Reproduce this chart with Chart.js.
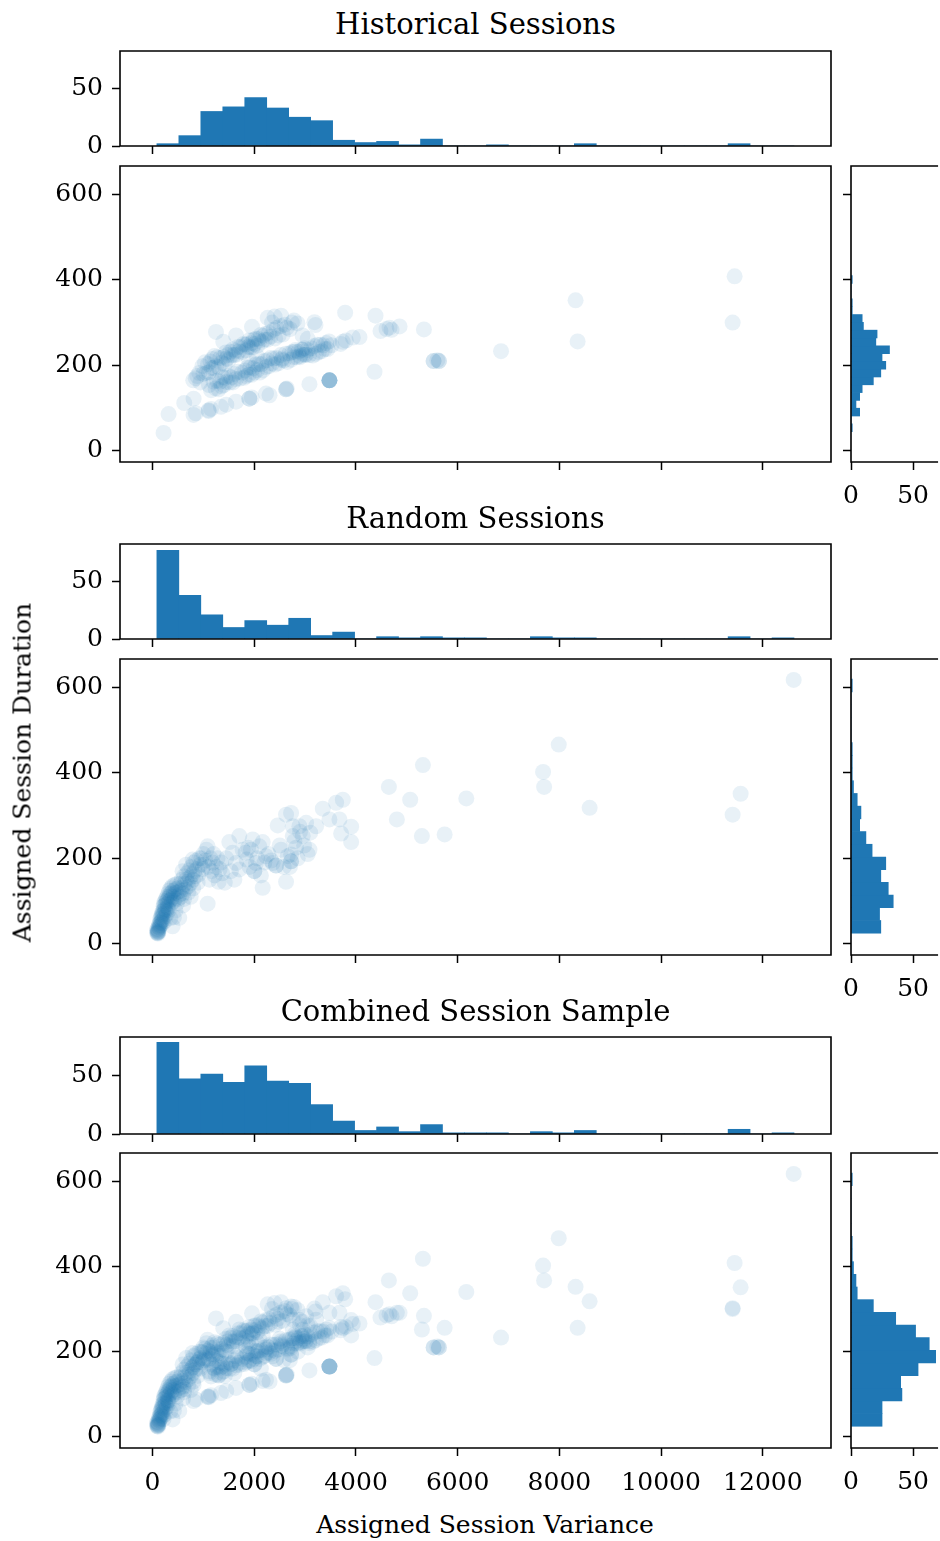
<!DOCTYPE html>
<html>
<head>
<meta charset="utf-8">
<script src="https://cdn.jsdelivr.net/npm/chart.js@4.4.1/dist/chart.umd.min.js"></script>
<style>
  html, body { margin: 0; padding: 0; background: #fff; }
  #page { position: relative; width: 940px; height: 1541px; overflow: hidden; font-family: "DejaVu Serif", serif; color: #000; }
  canvas { position: absolute; }
  .txt { position: absolute; white-space: nowrap; text-align: center; }
</style>
</head>
<body>
<div id="page"></div>
<script>
"use strict";

// shared x bins (left edges, last value is the right edge of the last bin)
var xBinEdges = [85, 517, 949, 1381, 1813, 2245, 2677, 3109, 3541, 3973, 4405, 4837, 5269, 5701, 6133,
    6565, 6997, 7429, 7861, 8293, 8725, 9157, 9589, 10021, 10453, 10885, 11317, 11749, 12181, 12613];

var historicXCounts = [2, 9, 30, 34, 42, 33, 25, 22, 5, 3, 4, 1, 6, 0, 0, 1, 0, 0, 0, 2, 0, 0, 0, 0, 0, 0, 2, 0, 0];
var randomXCounts = [77, 38, 21, 10, 16, 12, 18, 3, 6, 0, 2, 1, 2, 1, 1, 0, 0, 2, 1, 1, 0, 0, 0, 0, 0, 0, 2, 0, 1];
var combinedXCounts = [78, 47, 51, 44, 58, 45, 43, 25, 11, 3, 6, 2, 8, 1, 1, 1, 0, 2, 1, 3, 0, 0, 0, 0, 0, 0, 4, 0, 1];

var historicYEdges = [45, 63.25, 81.5, 99.75, 118, 136.25, 154.5, 172.75, 191, 209.25, 227.5,
    245.75, 264, 282.25, 300.5, 318.75, 337, 355.25, 373.5, 391.75, 410];
var historicYCounts = [1, 0, 7, 4, 7, 9, 18, 24, 28, 25, 31, 20, 21, 10, 9, 1, 1, 0, 0, 1];

var randomYEdges = [25, 54.7, 84.4, 114.1, 143.8, 173.5, 203.2, 232.9, 262.6, 292.3, 322,
    351.7, 381.4, 411.1, 440.8, 470.5, 500.2, 529.9, 559.6, 589.3, 619];
var randomYCounts = [24, 23, 34, 30, 24, 28, 17, 12, 7, 8, 5, 2, 1, 1, 1, 0, 0, 0, 0, 1];

var combinedYEdges = [25, 54.7, 84.4, 114.1, 143.8, 173.5, 203.2, 232.9, 262.6, 292.3, 322,
    351.7, 381.4, 411.1, 440.8, 470.5, 500.2, 529.9, 559.6, 589.3, 619];
var combinedYCounts = [25, 25, 41, 40, 54, 72, 63, 52, 36, 18, 5, 4, 2, 1, 1, 0, 0, 0, 0, 1];

var varianceTicks = [0, 2000, 4000, 6000, 8000, 10000, 12000];
var durationTicks = [0, 200, 400, 600];
var countTicks = [0, 50];

// [variance, duration]
var historicPoints = [
    [217,42],[315,86],[623,112],[807,122],[807,84],[850,88],[1103,93],[1103,95],[1150,98],[1345,103],
    [1450,108],[1641,115],[1903,122],[1903,122],[1950,125],[2231,134],[2300,130],[2625,144],[2625,144],[2640,146],
    [3085,156],[3478,165],[3478,165],[3478,165],[3478,165],[3478,165],[3478,165],
    [1247,278],[1391,255],[1641,270],[1956,290],[2264,311],[2400,314],[2527,316],[3183,301],[3203,294],[3787,323],
    [4384,316],[4364,185],[4069,266],[4482,280],[4600,285],[4660,288],[4700,283],[4857,291],[5336,284],[5526,210],
    [5526,210],[5600,212],[5631,210],[5631,210],[6852,233],[8318,352],[8358,256],[11445,408],[11406,300],
    [3741,255],[3938,265],[3800,258],[3700,250],
    [800,165],[850,170],[880,175],[920,182],[940,160],
    [980,198],[1000,180],[1030,207],[1060,182],[1090,203],[1110,184],[1140,209],[1160,194],[1180,215],[1200,194],
    [1220,222],[1250,198],[1270,219],[1300,196],[1330,217],[1360,206],
    [1110,154],[1150,142],[1200,162],[1240,146],[1270,164],[1300,144],[1330,162],[1360,151],[1375,172],
    [1400,220],[1420,203],[1440,230],[1460,216],[1480,224],[1500,213],[1530,232],[1560,224],[1580,237],[1600,224],
    [1630,234],[1650,225],[1680,243],[1700,233],[1730,243],[1760,231],[1790,250],
    [1400,154],[1430,171],[1460,161],[1490,175],[1520,160],[1550,172],[1580,160],[1610,180],[1640,168],[1680,185],
    [1720,169],[1760,183],[1800,171],
    [1820,248],[1840,235],[1860,249],[1880,243],[1900,258],[1920,242],[1945,252],[1970,242],[1990,260],[2010,250],
    [2030,262],[2060,246],[2080,262],[2100,258],[2130,271],[2150,255],[2180,269],[2210,260],[2230,274],
    [1820,188],[1840,175],[1870,195],[1890,178],[1920,195],[1950,178],[1980,193],[2000,183],[2030,202],[2060,189],
    [2090,203],[2110,183],[2140,203],[2170,188],[2200,210],[2230,196],[1900,212],[2050,222],
    [2260,260],[2290,276],[2320,267],[2350,300],[2380,283],[2410,263],[2440,287],[2480,270],[2520,292],[2560,272],
    [2600,295],[2640,288],
    [2260,212],[2290,198],[2320,217],[2350,204],[2380,216],[2410,202],[2440,217],[2480,205],[2520,224],[2546,213],
    [2546,216],[2580,211],[2620,227],[2650,208],
    [2700,285],[2740,300],[2780,305],[2850,298],[2950,270],[3050,262],[2690,228],[2720,213],[2750,231],[2780,219],
    [2810,236],[2840,219],[2870,232],[2900,219],[2930,237],[2960,225],[2990,240],[3020,225],[3050,236],[3080,224],
    [2800,232],[2900,222],[2950,236],[3000,225],
    [3120,240],[3150,223],[3180,245],[3210,227],[3240,248],[3270,231],[3300,248],[3330,233],[3360,247],[3390,238],
    [3413,252],[3440,238],[3470,256],[3520,247]
];

var randomPoints = [
    [90,25],[95,28],[100,26],[105,30],[110,27],[88,32],[115,33],[120,29],[98,35],[108,24],[125,40],[130,45],
    [135,38],[140,48],[145,42],[155,52],[160,44],[170,50],[180,54],[394,41],[200,48],[240,53],
    [150,58],[165,62],[175,66],[185,70],[190,60],[195,75],[200,68],[210,78],[220,72],[230,82],[240,64],[250,80],
    [260,76],[280,70],[300,83],[420,62],[450,78],[350,60],[320,79],[210,57],
    [215,88],[225,95],[235,90],[245,100],[255,92],[265,105],[275,98],[285,110],[295,102],[305,94],[320,108],
    [335,100],[350,112],[365,104],[380,96],[400,110],[420,100],[440,106],[480,95],[500,105],[300,86],
    [310,118],[330,125],[345,116],[360,130],[375,120],[390,135],[405,124],[420,118],[435,138],[450,128],[465,120],
    [480,140],[495,130],[510,122],
    [530,115],[545,140],[560,125],[575,150],[590,132],[600,118],[615,158],[630,140],[645,128],[660,150],[675,165],
    [690,145],[705,135],[720,172],[735,155],[750,142],[765,180],[780,162],[795,150],[810,190],[825,170],[840,158],
    [860,195],[880,175],[900,162],[920,200],[940,185],[788,197],[591,170],[660,185],[560,110],[620,105],[886,143],
    [700,120],[800,130],[525,61],[600,90],[750,110],
    [960,200],[980,175],[1000,210],[1020,185],[1040,195],[1060,220],[1083,228],[1083,94],[1100,180],[1120,150],
    [1140,200],[1160,170],[1180,190],[1200,210],[1220,160],[1250,180],[1280,200],[1300,145],[1320,175],[1350,190],
    [1370,165],
    [1420,143],[1450,200],[1509,238],[1540,170],[1575,213],[1608,150],[1641,189],[1706,252],[1706,174],[1772,220],
    [1830,213],[1850,197],[1880,225],[1910,180],[1936,220],[1969,244],[2001,170],[2001,170],[2034,189],[2060,200],
    [2100,228],[2130,160],[2166,238],[2166,131],[2200,190],[2231,205],
    [2280,210],[2330,195],[2363,189],[2428,183],[2428,183],[2461,277],[2500,230],[2527,220],[2580,180],[2625,145],
    [2625,302],[2658,205],
    [2700,180],[2724,193],[2724,193],[2724,209],[2724,306],[2757,252],[2757,275],[2790,240],[2822,225],[2855,200],
    [2888,275],[2900,262],[2953,252],[2980,230],[3020,283],[3050,210],[3085,220],[3100,260],
    [3216,275],[3347,316],[3478,291],
    [3610,330],[3741,337],[3675,291],[3708,258],[3905,274],[3905,238],
    [4647,367],[4804,291],[5066,337],[5316,418],[5296,252],[5743,256],[6169,340],
    [7679,402],[7699,367],[7987,466],[8594,318],[11406,302],[11563,351],[12606,617]
];

var groupTitles = ['Historical Sessions', 'Random Sessions', 'Combined Session Sample'];
var groupXCounts = [historicXCounts, randomXCounts, combinedXCounts];
var groupYEdges = [historicYEdges, randomYEdges, combinedYEdges];
var groupYCounts = [historicYCounts, randomYCounts, combinedYCounts];
var groupPoints = [[historicPoints], [randomPoints], [historicPoints, randomPoints]];

// page geometry
var frame = {
    left: 120, right: 831, sideLeft: 851, sideRight: 940,
    histTop: [51, 544, 1037], histBottom: [146, 639, 1134],
    mainTop: [166, 659, 1153], mainBottom: [462, 955, 1448],
    titleBaseline: [34, 528, 1021]
};

var blue = '#1f77b4';
var dotColor = 'rgba(31, 119, 180, 0.1)';

Chart.defaults.font.family = '"DejaVu Serif", serif';
Chart.defaults.font.size = 25;
Chart.defaults.color = '#000';

var page = document.getElementById('page');

var framePlugin = {
    id: 'frame',
    afterDatasetsDraw: function (chart, args, opts) {
        var a = chart.chartArea, ctx = chart.ctx;
        ctx.save();
        ctx.strokeStyle = '#000';
        ctx.lineWidth = 1.6;
        ctx.beginPath();
        if (opts.open) {
            ctx.moveTo(a.right + 2, a.top);
            ctx.lineTo(a.left, a.top);
            ctx.lineTo(a.left, a.bottom);
            ctx.lineTo(a.right + 2, a.bottom);
        } else {
            ctx.rect(a.left, a.top, a.right - a.left, a.bottom - a.top);
        }
        ctx.stroke();
        ctx.restore();
    }
};

function addCanvas(box) {
    var c = document.createElement('canvas');
    c.width = box.width;
    c.height = box.height;
    c.style.left = box.left + 'px';
    c.style.top = box.top + 'px';
    c.style.width = box.width + 'px';
    c.style.height = box.height + 'px';
    page.appendChild(c);
    return c;
}

function addText(text, left, top, width, size, rotate) {
    var d = document.createElement('div');
    d.className = 'txt';
    d.textContent = text;
    d.style.left = left + 'px';
    d.style.top = top + 'px';
    d.style.width = width + 'px';
    d.style.fontSize = size + 'px';
    d.style.lineHeight = size + 'px';
    if (rotate) d.style.transform = 'rotate(-90deg)';
    page.appendChild(d);
}

function linearAxis(min, max, tickValues, showLabels, pad) {
    return {
        type: 'linear', min: min, max: max, offset: false,
        afterBuildTicks: function (scale) {
            scale.ticks = tickValues.map(function (v) { return { value: v }; });
        },
        grid: { display: true, drawOnChartArea: false, drawTicks: true, tickLength: 8, tickWidth: 1.5, tickColor: '#000', offset: false },
        border: { display: false },
        ticks: {
            display: showLabels, padding: pad, autoSkip: false, maxRotation: 0, color: '#000',
            callback: function (v) { return String(v); }
        }
    };
}

function place(box, plot, config, open) {
    var cv = addCanvas(box);
    var yWidth = plot.left - box.left;
    var xHeight = box.top + box.height - plot.bottom;
    config.options.responsive = false;
    config.options.animation = false;
    config.options.devicePixelRatio = 1;
    config.options.events = [];
    config.options.layout = { padding: { left: 0, bottom: 0, top: plot.top - box.top, right: box.left + box.width - plot.right } };
    config.options.plugins = { legend: { display: false }, tooltip: { enabled: false }, frame: { open: open } };
    config.options.scales.x.afterFit = function (s) { s.height = xHeight; };
    config.options.scales.y.afterFit = function (s) { s.width = yWidth; };
    config.plugins = [framePlugin];
    return new Chart(cv, config);
}

function binCentres(edges, counts, valueKey, indexKey) {
    return counts.map(function (c, i) {
        var d = {};
        d[indexKey] = (edges[i] + edges[i + 1]) / 2;
        d[valueKey] = c;
        return d;
    });
}

for (var g = 0; g < 3; g++) {
    var last = g === 2;

    addText(groupTitles[g], 0, frame.titleBaseline[g] - 24.5, 951, 29, false);

    // marginal histogram of the variance
    var hPlot = { left: frame.left, right: frame.right, top: frame.histTop[g], bottom: frame.histBottom[g] };
    place({ left: 0, top: hPlot.top - 30, width: 845, height: hPlot.bottom - hPlot.top + 60 }, hPlot, {
        type: 'bar',
        data: { datasets: [{
            data: binCentres(xBinEdges, groupXCounts[g], 'y', 'x'),
            backgroundColor: blue, borderWidth: 0, barPercentage: 1, categoryPercentage: 1
        }] },
        options: { scales: { x: linearAxis(-640, 13340, varianceTicks, false, 8), y: linearAxis(0, 82.5, countTicks, true, 9) } }
    }, false);

    // scatter
    var mPlot = { left: frame.left, right: frame.right, top: frame.mainTop[g], bottom: frame.mainBottom[g] };
    var sets = groupPoints[g].map(function (pts) {
        return {
            data: pts.map(function (p) { return { x: p[0], y: p[1] }; }),
            backgroundColor: dotColor, borderWidth: 0, pointRadius: 8, pointHoverRadius: 8
        };
    });
    place({ left: 0, top: mPlot.top - 30, width: 845, height: mPlot.bottom - mPlot.top + 80 }, mPlot, {
        type: 'scatter',
        data: { datasets: sets },
        options: { scales: { x: linearAxis(-640, 13340, varianceTicks, last, 12), y: linearAxis(-26, 666, durationTicks, true, 9) } }
    }, false);

    // marginal histogram of the duration
    var sPlot = { left: frame.sideLeft, right: frame.sideRight, top: frame.mainTop[g], bottom: frame.mainBottom[g] };
    place({ left: 826, top: sPlot.top - 30, width: 114, height: sPlot.bottom - sPlot.top + 80 }, sPlot, {
        type: 'bar',
        data: { datasets: [{
            data: binCentres(groupYEdges[g], groupYCounts[g], 'x', 'y'),
            backgroundColor: blue, borderWidth: 0, barPercentage: 1, categoryPercentage: 1
        }] },
        options: {
            indexAxis: 'y',
            scales: { x: linearAxis(0, 68.5, countTicks, true, 11), y: linearAxis(-26, 666, durationTicks, false, 9) }
        }
    }, true);
}

addText('Assigned Session Variance', 285, 1512, 400, 25, false);
addText('Assigned Session Duration', 22 - 200, 772 - 12.5, 400, 25, true);
</script>
</body>
</html>
